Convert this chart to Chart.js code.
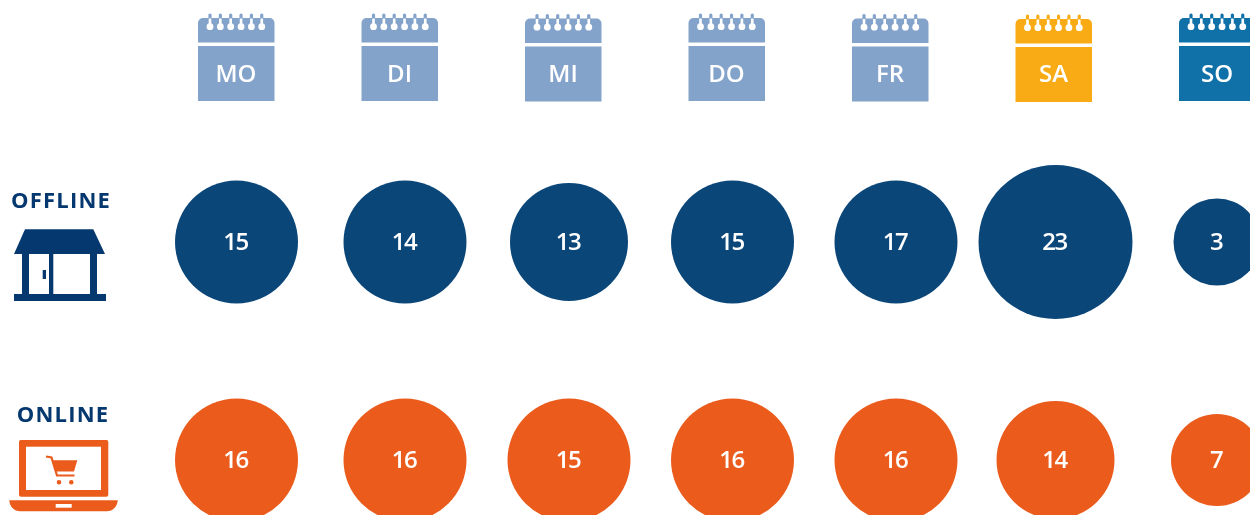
<!DOCTYPE html>
<html lang="de">
<head>
<meta charset="utf-8">
<title>Offline / Online</title>
<script src="https://cdn.jsdelivr.net/npm/chart.js@4"></script>
<style>
    html, body { margin: 0; padding: 0; background: #fff; overflow: hidden; }
    canvas { display: block; }
</style>
</head>
<body>
<canvas id="chartTage" width="1250" height="515"></canvas>
<script>
const tage = ['MO', 'DI', 'MI', 'DO', 'FR', 'SA', 'SO'];
const kanaele = ['OFFLINE', 'ONLINE'];
const offlineWerte = [15, 14, 13, 15, 17, 23, 3];
const onlineWerte = [16, 16, 15, 16, 16, 14, 7];

// layout, px
const radienOffline = [61.5, 61.5, 59, 61.5, 61.5, 77, 43.5];
const radienOnline = [61.5, 61.5, 61.5, 61.5, 61.5, 59, 46];
const spalteVersatz = [0.5, 5.5, 6, 6, 6, 2, 0]; // bubbles sit a bit right of the calendars
const kalenderVersatz = [0, 0, 0.5, 0, 0.5, 1, 0];
const spalteBreite = 163.5;
const ersteSpalte = 236;
const zeileAbstand = 218;
const ersteZeile = 242;
const achseHoehe = 90;

const farbeKalender = ['#84a3ca', '#84a3ca', '#84a3ca', '#84a3ca', '#84a3ca', '#f9ab15', '#1071a9'];
const farbeOffline = '#0b4679';
const farbeOnline = '#ea5b1c';
const farbeIcon = '#04386f';
const schrift = '"Open Sans", sans-serif';

const zeichneKalender = (ctx, mitte, farbe, dy) => {
    const links = mitte - 38;
    const oben = 18 + dy;
    ctx.fillStyle = farbe;
    ctx.beginPath();
    ctx.roundRect(links, oben, 76.5, 24.5, [5, 5, 0, 0]);
    ctx.fill();
    ctx.fillRect(links, oben + 28, 76.5, 55);
    for (let i = 0; i < 6; i++) {
        const x = links + 12 + i * 10.35;
        ctx.fillStyle = farbe;
        ctx.beginPath();
        ctx.roundRect(x - 1.6, oben - 4.5, 3.2, 6, 1.5);
        ctx.fill();
        ctx.fillStyle = '#fff';
        ctx.fillRect(x - 1.3, oben + 0.5, 2.6, 7);
        ctx.beginPath();
        ctx.arc(x, oben + 8.7, 3.4, 0, Math.PI * 2);
        ctx.fill();
    }
};

const zeichneLaden = (ctx) => {
    ctx.fillStyle = farbeIcon;
    ctx.beginPath();
    ctx.moveTo(25, 229.3);
    ctx.lineTo(93.3, 229.3);
    ctx.lineTo(105, 254);
    ctx.lineTo(14, 254);
    ctx.closePath();
    ctx.fill();
    ctx.fillRect(22, 254, 7, 40);
    ctx.fillRect(49, 254, 4.3, 40);
    ctx.fillRect(90, 254, 7, 40);
    ctx.fillRect(14, 294, 92, 7);
    ctx.fillRect(42.7, 270, 3.3, 9);
};

const zeichneLaptop = (ctx) => {
    ctx.fillStyle = farbeOnline;
    ctx.beginPath();
    ctx.roundRect(19, 440, 89.3, 56.7, 2);
    ctx.fill();
    ctx.beginPath();
    ctx.roundRect(9.3, 500.3, 108.4, 11, [0, 0, 11, 11]);
    ctx.fill();
    ctx.fillStyle = '#fff';
    ctx.fillRect(26, 446.7, 75, 43.3);
    ctx.fillRect(55.7, 504, 16, 3.7);

    // Einkaufswagen
    ctx.fillStyle = farbeOnline;
    ctx.strokeStyle = farbeOnline;
    ctx.lineWidth = 2.2;
    ctx.beginPath();
    ctx.moveTo(46, 456.5);
    ctx.lineTo(51.5, 457.5);
    ctx.lineTo(57, 475.5);
    ctx.lineTo(74.5, 475.5);
    ctx.stroke();
    ctx.beginPath();
    ctx.moveTo(52.3, 460.3);
    ctx.lineTo(77.3, 460.3);
    ctx.lineTo(74, 471.5);
    ctx.lineTo(56, 471.5);
    ctx.closePath();
    ctx.fill();
    ctx.beginPath();
    ctx.arc(59, 482.3, 2.3, 0, Math.PI * 2);
    ctx.arc(71.3, 482.3, 2.3, 0, Math.PI * 2);
    ctx.fill();
};

const pluginBilder = {
    id: 'bilder',
    beforeDraw(chart) {
        const ctx = chart.ctx;
        ctx.save();
        tage.forEach((tag, i) => {
            zeichneKalender(ctx, chart.scales.x.getPixelForValue(i), farbeKalender[i], kalenderVersatz[i]);
        });
        zeichneLaden(ctx);
        zeichneLaptop(ctx);
        ctx.fillStyle = farbeIcon;
        ctx.font = `700 22px ${schrift}`;
        ctx.textAlign = 'center';
        ctx.textBaseline = 'middle';
        ctx.letterSpacing = '1.2px';
        ctx.fillText(kanaele[0], 61, chart.scales.y.getPixelForValue(0) - 40);
        ctx.fillText(kanaele[1], 63, chart.scales.y.getPixelForValue(1) - 44);
        ctx.restore();
    },
    afterDatasetsDraw(chart) {
        const ctx = chart.ctx;
        ctx.save();
        ctx.fillStyle = '#fff';
        ctx.font = `600 24px ${schrift}`;
        ctx.textAlign = 'center';
        ctx.textBaseline = 'middle';
        ctx.letterSpacing = '-1.5px';
        chart.data.datasets.forEach((ds, d) => {
            chart.getDatasetMeta(d).data.forEach((el, i) => {
                ctx.fillText(ds.werte[i], el.x - 1, el.y + 1);
            });
        });
        ctx.restore();
    }
};

const baueReihe = (werte, radien, zeile) => werte.map((w, i) => ({
    x: i + spalteVersatz[i] / spalteBreite,
    y: zeile,
    r: radien[i]
}));

new Chart(document.getElementById('chartTage'), {
    type: 'bubble',
    data: {
        datasets: [
            { label: kanaele[0], werte: offlineWerte, data: baueReihe(offlineWerte, radienOffline, 0), backgroundColor: farbeOffline, borderWidth: 0 },
            { label: kanaele[1], werte: onlineWerte, data: baueReihe(onlineWerte, radienOnline, 1), backgroundColor: farbeOnline, borderWidth: 0 }
        ]
    },
    options: {
        responsive: false,
        animation: false,
        events: [],
        layout: { padding: 0, autoPadding: false },
        plugins: { legend: { display: false }, tooltip: { enabled: false } },
        scales: {
            x: {
                type: 'linear',
                position: 'top',
                min: -ersteSpalte / spalteBreite,
                max: (1250 - ersteSpalte) / spalteBreite,
                grid: { display: false, drawTicks: false },
                border: { display: false },
                afterFit: (axis) => { axis.height = achseHoehe; },
                afterBuildTicks: (axis) => { axis.ticks = tage.map((t, i) => ({ value: i })); },
                ticks: {
                    autoSkip: false,
                    maxRotation: 0,
                    padding: 0,
                    color: '#fff',
                    font: { family: schrift, size: 24, weight: '600' },
                    callback: (v) => tage[v]
                }
            },
            y: {
                display: false,
                reverse: true,
                min: (achseHoehe - ersteZeile) / zeileAbstand,
                max: (515 - ersteZeile) / zeileAbstand
            }
        }
    },
    plugins: [pluginBilder]
});
</script>
</body>
</html>
